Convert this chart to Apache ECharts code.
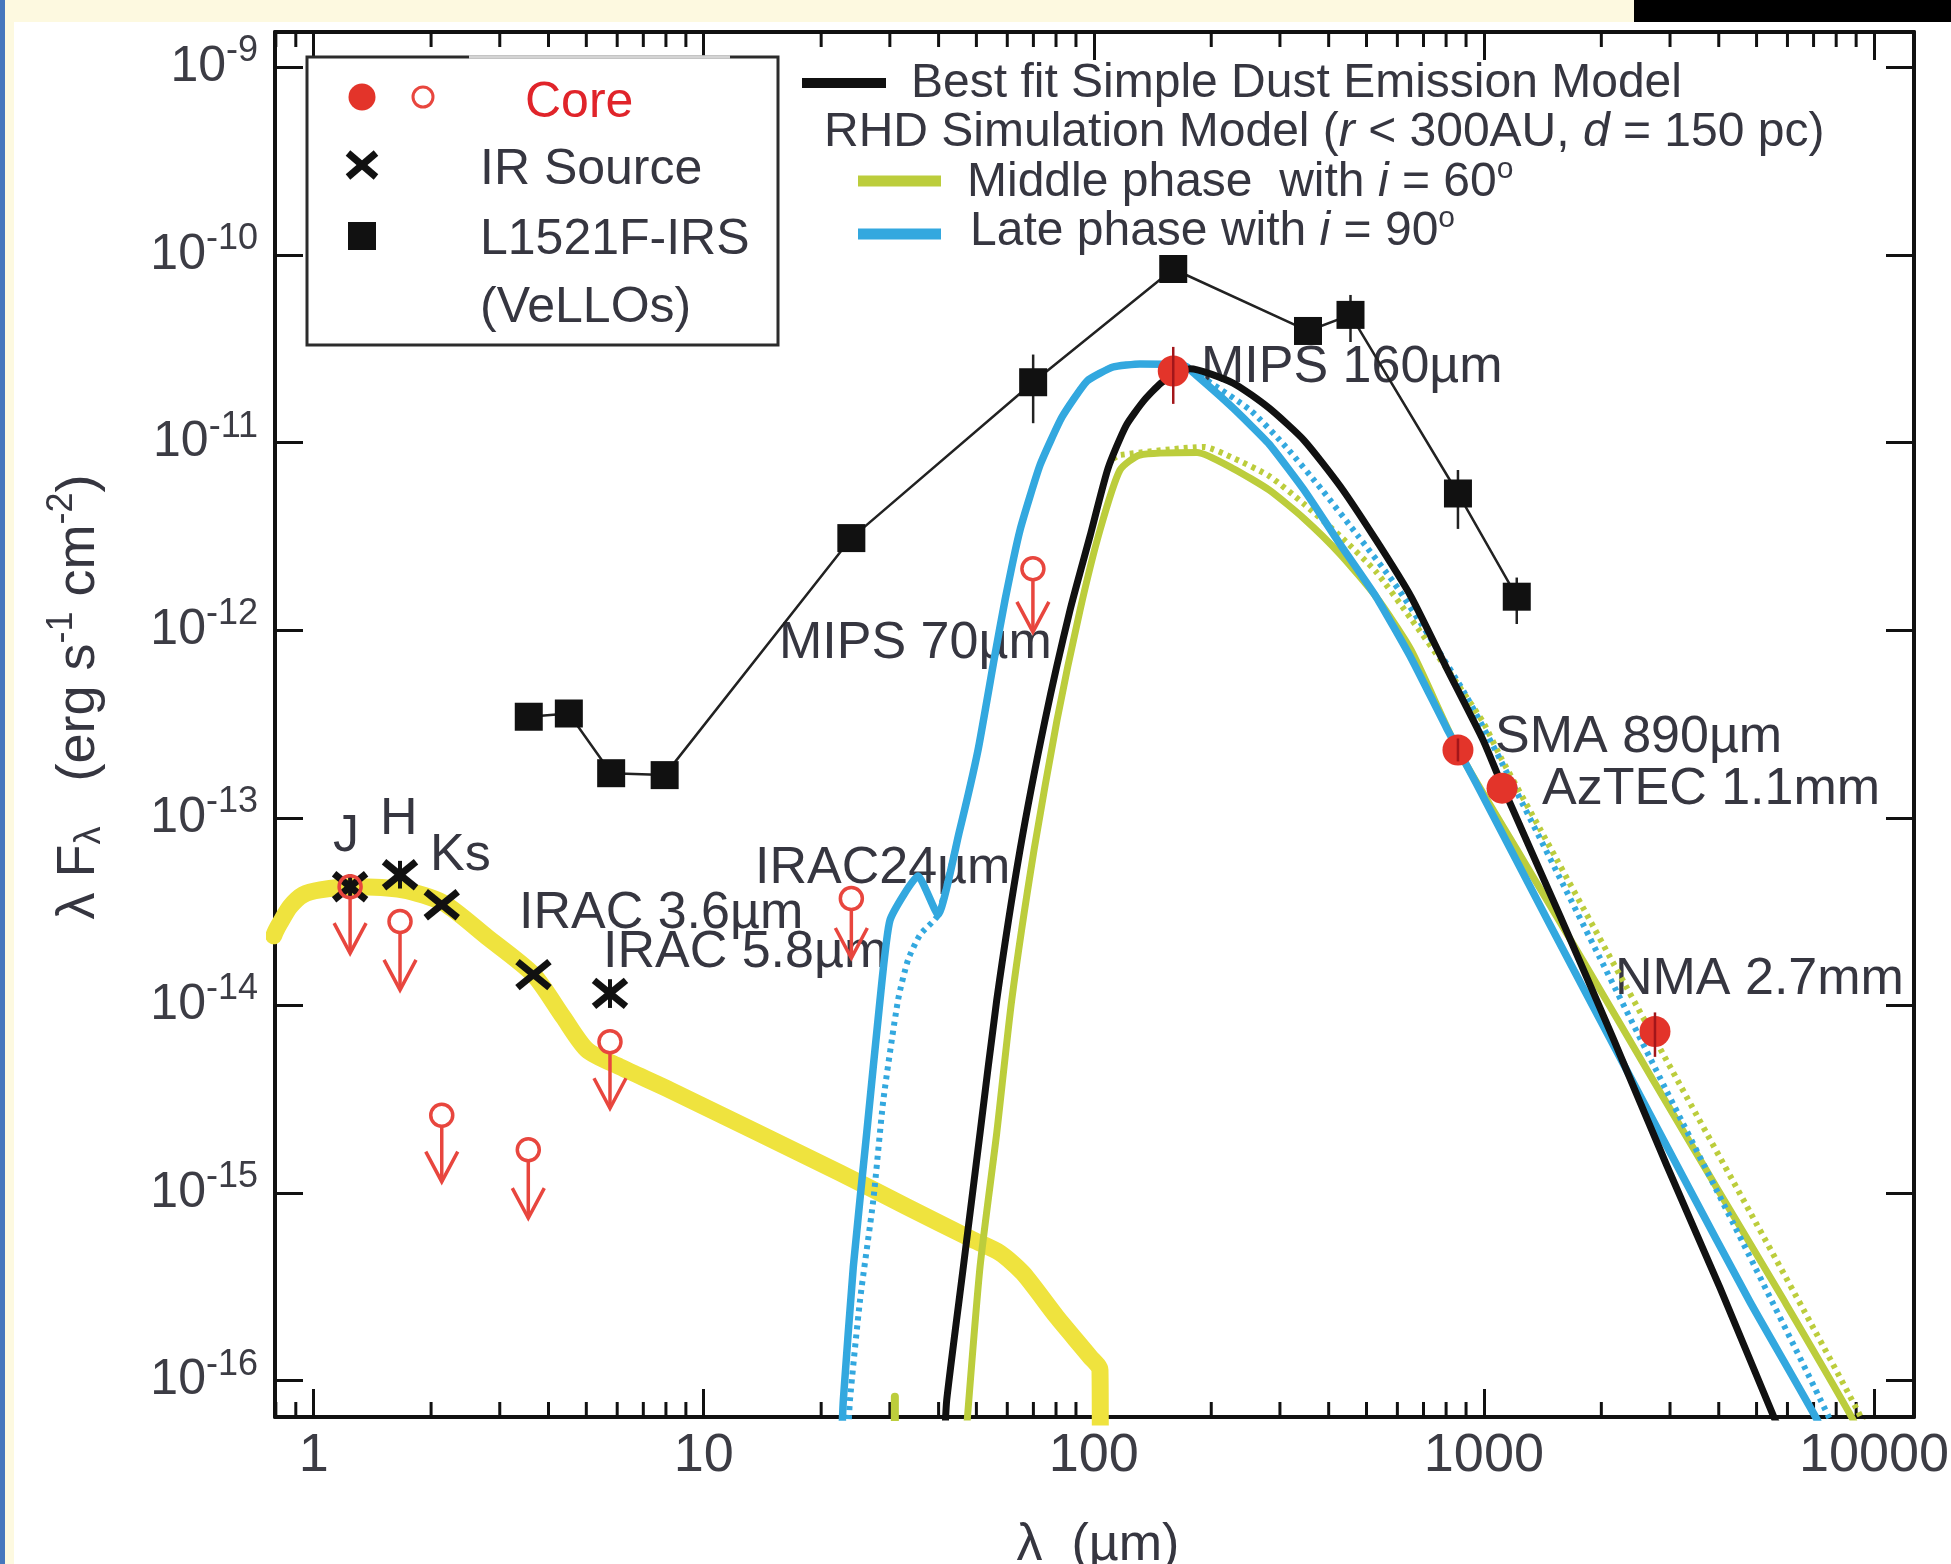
<!DOCTYPE html>
<html><head><meta charset="utf-8">
<script src="https://cdn.jsdelivr.net/npm/echarts@6/dist/echarts.min.js"></script>
<style>html,body{margin:0;padding:0;background:#fff;}#c{width:1951px;height:1564px;}</style>
</head><body><div id="c"></div>
<script>
// ---------------- data (λ in µm, λFλ in erg s^-1 cm^-2) ----------------
const xTickLabels = ['1', '10', '100', '1000', '10000'];            // exponents 0..4
const yTickLabels = ['-16', '-15', '-14', '-13', '-12', '-11', '-10', '-9']; // exponents -16..-9
const minorTicksX = [0.8, 0.9, 2, 3, 4, 5, 6, 7, 8, 9, 20, 30, 40, 50, 60, 70, 80, 90,
  200, 300, 400, 500, 600, 700, 800, 900, 2000, 3000, 4000, 5000, 6000, 7000, 8000, 9000];

// L1521F-IRS (VeLLOs) photometry
const irsPoints = [[3.56, 3.46e-13], [4.51, 3.6e-13], [5.79, 1.73e-13], [7.94, 1.69e-13], [23.9, 3.1e-12],
  [69.9, 2.1e-11], [159.8, 8.43e-11], [354, 3.94e-11], [455, 4.8e-11], [858, 5.36e-12], [1214, 1.51e-12]];
const irsErrors = [[5.79, 1.55e-13, 1.9e-13], [7.94, 1.5e-13, 1.85e-13], [69.9, 1.27e-11, 2.95e-11],
  [455, 3.44e-11, 6.13e-11], [858, 3.47e-12, 7.15e-12], [1214, 1.08e-12, 1.91e-12]];

// IR source (crosses)
const irSource = [[1.24, 4.29e-14], [1.665, 4.97e-14], [2.13, 3.44e-14], [3.66, 1.46e-14], [5.75, 1.16e-14]];
const irSourceErrors = [[1.24, 3.7e-14, 5.0e-14], [1.665, 4.2e-14, 5.9e-14], [5.75, 0.97e-14, 1.38e-14]];

// Core detections (filled) and upper limits (open circle + arrow tip)
const coreDetections = [[159.8, 2.41e-11], [858, 2.30e-13], [1113, 1.44e-13], [2745, 7.27e-15]];
const coreErrors = [[159.8, 1.61e-11, 3.24e-11], [858, 2.0e-13, 2.65e-13], [2745, 5.32e-15, 9.18e-15]];
const coreUpperLimits = [[1.24, 4.29e-14, 1.9e-14], [1.665, 2.8e-14, 1.21e-14], [2.13, 2.6e-15, 1.15e-15],
  [3.55, 1.7e-15, 7.35e-16], [5.75, 6.41e-15, 2.83e-15], [23.9, 3.72e-14, 1.79e-14], [69.8, 2.13e-12, 9.8e-13]];

// IR source model (thick yellow)
const irModel = [[0.79, 2.35e-14], [0.80, 2.5e-14], [0.82, 2.75e-14], [0.87, 3.36e-14], [0.94, 3.89e-14],
  [1.04, 4.13e-14], [1.26, 4.29e-14], [1.69, 4.13e-14], [2.15, 3.52e-14], [2.78, 2.32e-14], [3.66, 1.46e-14],
  [4.36, 8.69e-15], [5.02, 5.8e-15], [6.10, 4.7e-15], [8.2, 3.54e-15], [22.35, 1.28e-15], [33.1, 8.47e-16],
  [49.1, 5.62e-16], [57.5, 4.79e-16], [65.85, 3.74e-16], [80.3, 2.19e-16], [97.8, 1.34e-16], [103.7, 1.14e-16],
  [103.9, 5e-17]];

// Best fit simple dust emission model (black)
const bestFit = [[41.5, 5e-17], [41.97, 7.9e-17], [46.30, 4.05e-16], [51.09, 2.09e-15], [56.38, 1.07e-14],
  [64.69, 6.75e-14], [74.98, 3.32e-13], [86.90, 1.28e-12], [97.79, 3.18e-12], [108.7, 7.28e-12], [120.9, 1.23e-11],
  [134.2, 1.67e-11], [148.7, 2.08e-11], [160.6, 2.27e-11], [176.5, 2.48e-11], [227.5, 2.08e-11], [281.3, 1.53e-11],
  [345.8, 1.03e-11], [427.7, 5.88e-12], [529.0, 3.03e-12], [650.5, 1.51e-12], [804.5, 6.22e-13], [994.8, 2.60e-13],
  [1106, 1.54e-13], [1567, 3.0e-14], [2142, 6.71e-15], [2948, 1.39e-15], [4030, 3.12e-16], [5573, 6.2e-17],
  [5750, 5.4e-17]];

// RHD middle phase, i = 60 (olive): solid and dotted
const middlePhase = [[47.0, 5e-17], [51.09, 4.05e-16], [56.38, 2.09e-15], [61.60, 1.07e-14], [70.27, 6.75e-14],
  [80.47, 3.32e-13], [92.18, 1.28e-12], [103.7, 3.42e-12], [116.7, 7.15e-12], [131.3, 8.6e-12], [183.9, 8.87e-12],
  [227.5, 7.28e-12], [281.3, 5.60e-12], [345.8, 3.94e-12], [427.7, 2.55e-12], [529.0, 1.51e-12], [650.5, 7.85e-13],
  [858.4, 2.30e-13], [1216, 6.75e-14], [1795, 1.73e-14], [2713, 4.01e-15], [3960, 1.06e-15], [5845, 2.73e-16],
  [8834, 6.2e-17], [9100, 5e-17]];
const middlePhaseDotted = [[112.0, 8.2e-12], [116.7, 8.6e-12], [191.7, 9.49e-12], [227.5, 8.29e-12],
  [281.3, 6.65e-12], [345.8, 4.71e-12], [427.7, 3.18e-12], [529.0, 2.05e-12], [650.5, 1.15e-12], [804.5, 6.22e-13],
  [994.8, 3.24e-13], [1106, 2.09e-13], [1393, 8.72e-14], [2105, 1.81e-14], [3183, 3.77e-15], [4809, 7.93e-16],
  [6855, 2.06e-16], [9318, 6.2e-17], [9600, 5e-17]];
const middlePhaseFragment = [[30.9, 8.2e-17], [30.9, 5e-17]];

// RHD late phase, i = 90 (blue): solid and dotted
const latePhase = [[22.58, 5e-17], [22.80, 7.9e-17], [24.18, 4.05e-16], [26.17, 2.09e-15], [28.31, 1.07e-14],
  [30.04, 2.86e-14], [35.44, 4.90e-14], [39.86, 3.04e-14], [45.13, 8.31e-14], [50.49, 2.30e-13], [55.49, 6.95e-13],
  [59.21, 1.45e-12], [64.69, 3.42e-12], [72.80, 7.60e-12], [82.87, 1.37e-11], [96.07, 2.13e-11], [112.0, 2.53e-11],
  [131.3, 2.63e-11], [169.3, 2.60e-11], [183.9, 2.27e-11], [227.5, 1.53e-11], [281.3, 9.84e-12], [345.8, 5.60e-12],
  [427.7, 2.88e-12], [529.0, 1.51e-12], [650.5, 7.12e-13], [804.5, 2.98e-13], [954, 1.54e-13], [1477, 2.69e-14],
  [2195, 5.65e-15], [3239, 1.22e-15], [4809, 2.63e-16], [7145, 6.2e-17], [7400, 5e-17]];
const latePhaseDotted = [[23.44, 5e-17], [23.71, 7.9e-17], [25.16, 2.69e-16], [27.21, 9.19e-16], [28.87, 3.13e-15],
  [31.49, 1.07e-14], [33.40, 1.75e-14], [35.86, 2.38e-14], [39.86, 3.04e-14], [45.13, 8.31e-14], [50.49, 2.30e-13],
  [55.49, 6.95e-13], [59.21, 1.45e-12], [64.69, 3.42e-12], [72.80, 7.60e-12], [82.87, 1.37e-11], [96.07, 2.13e-11],
  [112.0, 2.53e-11], [131.3, 2.63e-11], [169.3, 2.60e-11], [196.3, 2.13e-11], [252.9, 1.48e-11], [310.9, 9.49e-12],
  [384.6, 5.60e-12], [475.7, 3.18e-12], [588.3, 1.79e-12], [723.4, 9.33e-13], [894.7, 4.58e-13], [1106, 2.01e-13],
  [1984, 1.79e-14], [2948, 3.46e-15], [4351, 6.93e-16], [7713, 6.2e-17], [7900, 5e-17]];

// ---------------- chart ----------------
const FONT = "'Liberation Sans', Arial, Helvetica, sans-serif";
const TXT = '#363640';
const RED = '#e3342a', RED_OPEN = '#e8463e', INK = '#111111', BLUE = '#33a8df', OLIVE = '#bccd3c', YELLOW = '#efe33e';

function isDecade(v) { const l = Math.log10(v); return Math.abs(l - Math.round(l)) < 1e-6; }

function lineSeries(name, data, color, width, dash, smooth) {
  return { name, type: 'line', data, symbol: 'none', smooth: smooth === undefined ? 0.2 : smooth, clip: true,
    lineStyle: { color, width, type: dash || 'solid', cap: dash ? 'butt' : 'round', join: 'round' }, silent: true };
}
function barSeries(data, color, width) {
  return { type: 'custom', data, silent: true, z: 4,
    renderItem: (p, api) => {
      const a = api.coord([api.value(0), api.value(1)]);
      const b = api.coord([api.value(0), api.value(2)]);
      return { type: 'line', shape: { x1: a[0], y1: a[1], x2: b[0], y2: b[1] }, style: { stroke: color, lineWidth: width } };
    } };
}

function t(x, y, text, size, color, extra) {
  return Object.assign({ type: 'text', x, y, z: 1, silent: true,
    style: { text, fill: color || TXT, fontSize: size, fontFamily: FONT,
      align: 'left', verticalAlign: 'middle', textAlign: 'left', textVerticalAlign: 'middle' } }, extra || {});
}
function richStyle(size, color) {
  return {
    n: { fontSize: size, fontFamily: FONT, fill: color, color },
    i: { fontSize: size, fontFamily: FONT, fontStyle: 'italic', fill: color, color },
    s: { fontSize: Math.round(size * 0.62), fontFamily: FONT, fill: color, color, padding: [0, 0, Math.round(size * 0.55), 0] }
  };
}

const chart = echarts.init(document.getElementById('c'), null, { renderer: 'canvas' });

const axisLineStyle = { color: INK, width: 4 };
const tickStyle = { color: INK, width: 3 };
const logMinX = 0.796, logMaxX = 12664, logMinY = 6.4e-17, logMaxY = 1.546e-9;

const option = {
  animation: false,
  backgroundColor: '#ffffff',
  grid: { left: 275, right: 37, top: 32, bottom: 147, containLabel: false, outerBoundsMode: 'none' },
  xAxis: [
    { type: 'log', min: logMinX, max: logMaxX, position: 'bottom', splitNumber: 5,
      axisLine: { show: true, lineStyle: axisLineStyle }, axisTick: { show: true, inside: true, length: 28, lineStyle: tickStyle },
      splitLine: { show: false }, minorTick: { show: false },
      axisLabel: { show: true, margin: 12, fontSize: 54, fontFamily: FONT, color: '#3c3c44', showMinLabel: false, showMaxLabel: false,
        formatter: v => { if (!isDecade(v)) return ''; const e = Math.round(Math.log10(v)); return xTickLabels[e] || ''; } } },
    { type: 'log', min: logMinX, max: logMaxX, position: 'top', splitNumber: 5,
      axisLine: { show: true, lineStyle: axisLineStyle }, axisTick: { show: true, inside: true, length: 28, lineStyle: tickStyle },
      splitLine: { show: false }, axisLabel: { show: false } }
  ],
  yAxis: [
    { type: 'log', min: logMinY, max: logMaxY, position: 'left', splitNumber: 8,
      axisLine: { show: true, lineStyle: axisLineStyle }, axisTick: { show: true, inside: true, length: 28, lineStyle: tickStyle },
      splitLine: { show: false }, minorTick: { show: false },
      axisLabel: { show: true, margin: 17, showMinLabel: false, showMaxLabel: false,
        formatter: v => { if (!isDecade(v)) return ''; const e = Math.round(Math.log10(v)); const s = yTickLabels[e + 16]; return s ? '{a|10}{b|' + s + '}' : ''; },
        rich: { a: { fontSize: 50, fontFamily: FONT, color: '#3c3c44' },
                b: { fontSize: 36, fontFamily: FONT, color: '#3c3c44', padding: [0, 0, 32, 0] } } } },
    { type: 'log', min: logMinY, max: logMaxY, position: 'right', splitNumber: 8,
      axisLine: { show: true, lineStyle: axisLineStyle }, axisTick: { show: true, inside: true, length: 28, lineStyle: tickStyle },
      splitLine: { show: false }, axisLabel: { show: false } }
  ],
  series: [
    // minor x ticks (top and bottom), placed through the x scale
    { type: 'custom', silent: true, z: 3, data: minorTicksX.map(v => [v, 1e-12]),
      renderItem: (p, api) => {
        const cs = p.coordSys; const x = api.coord([api.value(0), 1e-12])[0];
        const top = cs.y, bot = cs.y + cs.height;
        return { type: 'group', children: [
          { type: 'line', shape: { x1: x, y1: bot, x2: x, y2: bot - 15 }, style: { stroke: INK, lineWidth: 3 } },
          { type: 'line', shape: { x1: x, y1: top, x2: x, y2: top + 15 }, style: { stroke: INK, lineWidth: 3 } }
        ] };
      } },
    lineSeries('IR model', irModel, YELLOW, 17, null, 0.25),
    lineSeries('Middle fragment', middlePhaseFragment, OLIVE, 8, null, 0),
    lineSeries('Middle phase', middlePhase, OLIVE, 7),
    lineSeries('Middle phase dotted', middlePhaseDotted, OLIVE, 6, [4, 5]),
    lineSeries('Late phase dotted', latePhaseDotted, BLUE, 6, [4, 5]),
    lineSeries('Late phase', latePhase, BLUE, 7.5, null, 0.15),
    lineSeries('Best fit', bestFit, INK, 7),
    { name: 'L1521F-IRS', type: 'line', data: irsPoints, symbol: 'rect', symbolSize: 28, showSymbol: true, showAllSymbol: true,
      lineStyle: { color: '#222', width: 2.5 }, itemStyle: { color: INK, opacity: 1 }, z: 4, silent: true },
    barSeries(irsErrors, '#222', 2.5),
    barSeries(irSourceErrors, INK, 4),
    { type: 'custom', data: irSource, silent: true, z: 5,
      renderItem: (p, api) => {
        const c = api.coord([api.value(0), api.value(1)]); const w = 16, h = 13;
        return { type: 'group', children: [
          { type: 'line', shape: { x1: c[0] - w, y1: c[1] - h, x2: c[0] + w, y2: c[1] + h }, style: { stroke: INK, lineWidth: 7 } },
          { type: 'line', shape: { x1: c[0] - w, y1: c[1] + h, x2: c[0] + w, y2: c[1] - h }, style: { stroke: INK, lineWidth: 7 } }
        ] };
      } },
    { type: 'custom', data: coreUpperLimits, silent: true, z: 6,
      renderItem: (p, api) => {
        const c = api.coord([api.value(0), api.value(1)]); const tp = api.coord([api.value(0), api.value(2)]); const r = 11;
        return { type: 'group', children: [
          { type: 'circle', shape: { cx: c[0], cy: c[1], r }, style: { fill: 'none', stroke: RED_OPEN, lineWidth: 3.5 } },
          { type: 'line', shape: { x1: c[0], y1: c[1] + r, x2: tp[0], y2: tp[1] }, style: { stroke: RED_OPEN, lineWidth: 3.5 } },
          { type: 'polyline', shape: { points: [[tp[0] - 16, tp[1] - 30], [tp[0], tp[1]], [tp[0] + 16, tp[1] - 30]] },
            style: { fill: 'none', stroke: RED_OPEN, lineWidth: 3.5 } }
        ] };
      } },
    { name: 'Core', type: 'scatter', data: coreDetections, symbol: 'circle', symbolSize: 31, itemStyle: { color: RED, opacity: 1 }, z: 7, silent: true },
    Object.assign(barSeries(coreErrors, '#a3161a', 2.5), { z: 8 })
  ],
  graphic: { elements: [
    // slide decorations
    { type: 'rect', z: 0, silent: true, shape: { x: 0, y: 0, width: 1634, height: 22 }, style: { fill: '#fdf9e0' } },
    { type: 'rect', z: 0, silent: true, shape: { x: 1634, y: 0, width: 317, height: 22 }, style: { fill: '#000000' } },
    { type: 'rect', z: 0, silent: true, shape: { x: 5, y: 22, width: 9, height: 1542 }, style: { fill: '#fdf9e0' } },
    { type: 'rect', z: 0, silent: true, shape: { x: 0, y: 0, width: 5, height: 1564 }, style: { fill: '#4677bd' } },

    // legend box
    { type: 'rect', z: 50, silent: true, shape: { x: 307, y: 57, width: 471, height: 288 }, style: { fill: '#ffffff', stroke: '#2c2c2c', lineWidth: 3 } },
    { type: 'line', z: 51, silent: true, shape: { x1: 469, y1: 57, x2: 730, y2: 57 }, style: { stroke: '#d4d4d4', lineWidth: 3.5 } },
    { type: 'circle', z: 52, silent: true, shape: { cx: 362, cy: 97, r: 13.5 }, style: { fill: RED } },
    { type: 'circle', z: 52, silent: true, shape: { cx: 423, cy: 97, r: 10 }, style: { fill: 'none', stroke: RED_OPEN, lineWidth: 3 } },
    { type: 'line', z: 52, silent: true, shape: { x1: 348, y1: 153, x2: 376, y2: 177 }, style: { stroke: INK, lineWidth: 7 } },
    { type: 'line', z: 52, silent: true, shape: { x1: 348, y1: 177, x2: 376, y2: 153 }, style: { stroke: INK, lineWidth: 7 } },
    { type: 'rect', z: 52, silent: true, shape: { x: 348, y: 222, width: 28, height: 28 }, style: { fill: INK } },
    t(525, 103, 'Core', 50, '#e0242a', { z: 52 }),
    t(480, 170, 'IR Source', 50, TXT, { z: 52 }),
    t(480, 240, 'L1521F-IRS', 50, TXT, { z: 52 }),
    t(480, 308, '(VeLLOs)', 50, TXT, { z: 52 }),

    // model legend
    { type: 'line', z: 52, silent: true, shape: { x1: 802, y1: 83, x2: 886, y2: 83 }, style: { stroke: INK, lineWidth: 10 } },
    t(911, 84, 'Best fit Simple Dust Emission Model', 48, TXT),
    { type: 'line', z: 52, silent: true, shape: { x1: 858, y1: 181, x2: 941, y2: 181 }, style: { stroke: OLIVE, lineWidth: 11 } },
    { type: 'line', z: 52, silent: true, shape: { x1: 858, y1: 234, x2: 941, y2: 234 }, style: { stroke: BLUE, lineWidth: 11 } },

    // annotations
    t(333, 837, 'J', 52), t(380, 820, 'H', 52), t(430, 856, 'Ks', 52),
    t(519, 914, 'IRAC 3.6\u00b5m', 52), t(603, 953, 'IRAC 5.8\u00b5m', 52), t(755, 869, 'IRAC24\u00b5m', 52),
    t(779, 644, 'MIPS 70\u00b5m', 52), t(1201, 368, 'MIPS 160\u00b5m', 52),
    t(1495, 738, 'SMA 890\u00b5m', 52), t(1542, 790, 'AzTEC 1.1mm', 52), t(1615, 980, 'NMA 2.7mm', 52),

    // axis titles
    { type: 'text', x: 1098, y: 1546, z: 1, silent: true,
      style: { text: '\u03bb  (\u00b5m)', fill: TXT, fontSize: 52, fontFamily: FONT, align: 'center', verticalAlign: 'middle', textAlign: 'center', textVerticalAlign: 'middle' } },
    { type: 'text', x: 79, y: 697, z: 1, rotation: Math.PI / 2, silent: true,
      style: { text: '{t|\u03bb F}{b|\u03bb}{t|   (erg s}{p|-1}{t| cm}{p|-2}{t|)}', align: 'center', verticalAlign: 'middle', textAlign: 'center', textVerticalAlign: 'middle',
        rich: { t: { fontSize: 54, fontFamily: FONT, fill: TXT, color: TXT },
                b: { fontSize: 36, fontFamily: FONT, fill: TXT, color: TXT, padding: [22, 0, 0, 0] },
                p: { fontSize: 36, fontFamily: FONT, fill: TXT, color: TXT, padding: [0, 0, 34, 0] } } } }
  ] }
};

// rich legend texts
const els = option.graphic.elements;
els.push({ type: 'text', x: 824, y: 133, z: 1, silent: true,
  style: { text: '{n|RHD Simulation Model (}{i|r}{n| < 300AU, }{i|d}{n| = 150 pc)}', align: 'left', verticalAlign: 'middle', textAlign: 'left', textVerticalAlign: 'middle', rich: richStyle(48, TXT) } });
els.push({ type: 'text', x: 967, y: 183, z: 1, silent: true,
  style: { text: '{n|Middle phase  with }{i|i}{n| = 60}{s|o}', align: 'left', verticalAlign: 'middle', textAlign: 'left', textVerticalAlign: 'middle', rich: richStyle(48, TXT) } });
els.push({ type: 'text', x: 970, y: 232, z: 1, silent: true,
  style: { text: '{n|Late phase with }{i|i}{n| = 90}{s|o}', align: 'left', verticalAlign: 'middle', textAlign: 'left', textVerticalAlign: 'middle', rich: richStyle(48, TXT) } });

chart.setOption(option);
</script></body></html>
